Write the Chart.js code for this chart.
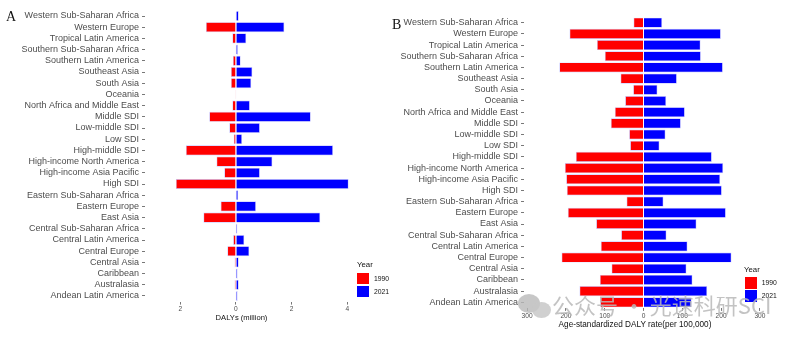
<!DOCTYPE html>
<html>
<head>
<meta charset="utf-8">
<script src="https://cdn.jsdelivr.net/npm/chart.js@4/dist/chart.umd.min.js"></script>
<style>
  html, body { margin: 0; padding: 0; background: #fff; }
  #wrap { position: relative; width: 794px; height: 339px; overflow: hidden;
          font-family: "Liberation Sans", Arial, sans-serif; }
  canvas { position: absolute; top: 0; }
  #cA { left: 0; }
  #cB { left: 390px; }
  .tag { position: absolute; font-family: "Liberation Serif", "Times New Roman", serif;
         font-size: 14px; line-height: 14px; color: #111; }
  .lg-title { position: absolute; font-size: 7.8px; line-height: 9px; color: #111; }
  .lg-box { position: absolute; width: 12px; height: 11.5px; }
  .lg-text { position: absolute; font-size: 6.8px; line-height: 8px; color: #111; }
  #wm { position: absolute; left: 552px; top: 290px; font-family: "Noto Sans CJK SC", sans-serif;
        font-size: 22px; line-height: 28px; color: rgba(185,185,185,0.85); white-space: nowrap; }
  .bub { position: absolute; border-radius: 50%; background: rgba(185,185,185,0.8); }
</style>
</head>
<body>
<div id="wrap">
  <canvas id="cA" width="390" height="339"></canvas>
  <canvas id="cB" width="404" height="339"></canvas>

  <div class="tag" style="left:6px; top:10px;">A</div>
  <div class="tag" style="left:392px; top:18px;">B</div>

  <div class="lg-title" style="left:357px; top:259.5px;">Year</div>
  <div class="lg-box" style="left:357px; top:272.8px; background:#ff0000;"></div>
  <div class="lg-box" style="left:357px; top:285.6px; background:#0000ff;"></div>
  <div class="lg-text" style="left:374px; top:275.3px;">1990</div>
  <div class="lg-text" style="left:374px; top:288.3px;">2021</div>

  <div class="lg-title" style="left:744px; top:264.5px;">Year</div>
  <div class="lg-box" style="left:744.7px; top:277.4px; background:#ff0000;"></div>
  <div class="lg-box" style="left:744.7px; top:290.2px; background:#0000ff;"></div>
  <div class="lg-text" style="left:761.7px; top:279.3px;">1990</div>
  <div class="lg-text" style="left:761.7px; top:292.3px;">2021</div>

  <div class="bub" style="left:518px; top:294px; width:22px; height:19px;"></div>
  <div class="bub" style="left:532px; top:302px; width:19px; height:16px; background:rgba(200,200,200,0.85);"></div>
  <div id="wm">公众号 · 光速科研SCI</div>
</div>

<script>
// Regions and SDI groups, top to bottom
const CATS = [
  "Western Sub-Saharan Africa", "Western Europe", "Tropical Latin America",
  "Southern Sub-Saharan Africa", "Southern Latin America", "Southeast Asia",
  "South Asia", "Oceania", "North Africa and Middle East", "Middle SDI",
  "Low-middle SDI", "Low SDI", "High-middle SDI", "High-income North America",
  "High-income Asia Pacific", "High SDI", "Eastern Sub-Saharan Africa",
  "Eastern Europe", "East Asia", "Central Sub-Saharan Africa",
  "Central Latin America", "Central Europe", "Central Asia", "Caribbean",
  "Australasia", "Andean Latin America"
];

// Panel A: DALYs (million)
const DALYS_1990 = [0.02, 1.08, 0.13, 0.02, 0.11, 0.18, 0.18, 0.005, 0.13, 0.96,
                    0.24, 0.08, 1.80, 0.70, 0.42, 2.16, 0.01, 0.55, 1.17, 0.01,
                    0.10, 0.31, 0.05, 0.02, 0.05, 0.02];
const DALYS_2021 = [0.10, 1.74, 0.37, 0.07, 0.17, 0.59, 0.55, 0.01, 0.50, 2.69,
                    0.86, 0.22, 3.49, 1.31, 0.86, 4.05, 0.08, 0.72, 3.03, 0.05,
                    0.30, 0.48, 0.10, 0.06, 0.10, 0.06];

// Panel B: age-standardized DALY rate (per 100,000)
const RATE_1990 = [25.8, 190.7, 120.0, 99.7, 217.0, 59.3, 26.6, 47.3, 73.9, 84.2,
                   37.0, 34.4, 174.4, 202.7, 199.3, 197.6, 43.8, 195.0, 122.0, 57.6,
                   110.0, 211.3, 82.5, 112.5, 165.0, 111.7];
const RATE_2021 = [48.0, 199.3, 147.0, 147.8, 204.5, 86.0, 36.0, 58.4, 106.5, 96.2,
                   56.7, 41.2, 176.1, 205.3, 197.6, 201.9, 51.5, 212.2, 136.6, 59.3,
                   113.4, 226.8, 110.8, 126.3, 164.1, 124.0];

const TICKS_A = [-2, 0, 2, 4];
const TICKS_B = [-300, -200, -100, 0, 100, 200, 300];

const FONT = "'Liberation Sans', Arial, sans-serif";
const EDGE = "rgba(190,190,255,0.9)";

// Draws the x-axis caption at a fixed spot under the axis
const axisCaption = {
  id: 'axisCaption',
  afterDraw(chart, args, o) {
    const c = chart.ctx;
    c.save();
    c.font = o.size + "px " + FONT;
    c.fillStyle = '#111';
    c.textAlign = 'center';
    c.textBaseline = 'middle';
    c.fillText(o.text, o.x, o.y);
    c.restore();
  }
};

function pyramid(id, cfg) {
  return new Chart(document.getElementById(id), {
    type: 'bar',
    data: {
      labels: CATS,
      datasets: [
        { label: '1990', data: cfg.older.map(v => -v), backgroundColor: '#ff0000',
          borderColor: EDGE, borderWidth: 0.7, barPercentage: 0.9, categoryPercentage: 1 },
        { label: '2021', data: cfg.newer, backgroundColor: '#0000ff',
          borderColor: EDGE, borderWidth: 0.7, barPercentage: 0.9, categoryPercentage: 1 }
      ]
    },
    options: {
      indexAxis: 'y',
      responsive: false,
      animation: false,
      devicePixelRatio: 1,
      layout: { padding: { left: 0, right: cfg.padRight, top: cfg.top, bottom: 0 } },
      plugins: {
        legend: { display: false },
        tooltip: { enabled: false },
        axisCaption: { text: cfg.caption, x: cfg.capX, y: cfg.capY, size: cfg.capSize }
      },
      scales: {
        x: {
          type: 'linear', stacked: true, min: cfg.min, max: cfg.max,
          afterBuildTicks: s => { s.ticks = cfg.ticks.map(v => ({ value: v })); },
          afterFit: s => { s.height = cfg.xHeight; },
          ticks: { callback: v => String(Math.abs(v)), font: { family: FONT, size: 6.6 },
                   color: '#4d4d4d', padding: 1, maxRotation: 0, autoSkip: false },
          grid: { display: true, drawOnChartArea: false, drawTicks: true, tickLength: 3,
                  tickColor: '#555', lineWidth: 0.8 },
          border: { display: false }
        },
        y: {
          type: 'category', stacked: true, offset: true,
          afterFit: s => { s.width = cfg.yWidth; },
          ticks: { font: { family: FONT, size: 9 }, color: '#4d4d4d', padding: 3, autoSkip: false },
          grid: { display: true, offset: false, drawOnChartArea: false, drawTicks: true,
                  tickLength: 3, tickColor: '#555', lineWidth: 0.8 },
          border: { display: false }
        }
      }
    },
    plugins: [axisCaption]
  });
}

pyramid('cA', {
  older: DALYS_1990, newer: DALYS_2021, ticks: TICKS_A,
  min: -3.27, max: 4.28, yWidth: 145, padRight: 35, top: 10.4, xHeight: 37.4,
  caption: 'DALYs (million)', capX: 241.5, capY: 318.3, capSize: 7.6
});

pyramid('cB', {
  older: RATE_1990, newer: RATE_2021, ticks: TICKS_B,
  min: -308, max: 310, yWidth: 134, padRight: 30.2, top: 17.1, xHeight: 31.1,
  caption: 'Age-standardized DALY rate(per 100,000)', capX: 245, capY: 324.3, capSize: 8.2
});
</script>
</body>
</html>
